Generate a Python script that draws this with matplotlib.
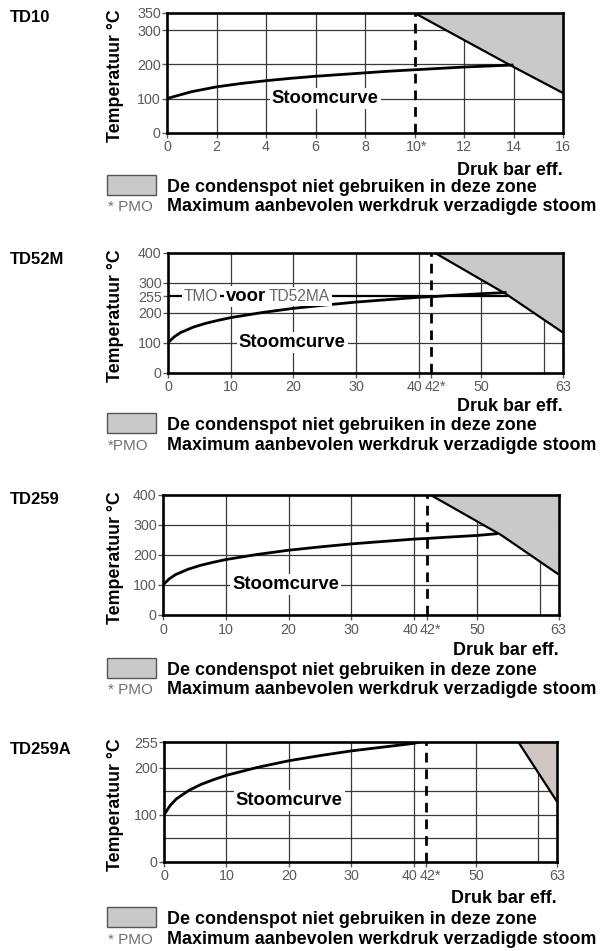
import matplotlib
matplotlib.use("Agg")
import matplotlib.pyplot as plt
from matplotlib.patches import Rectangle, Polygon
from matplotlib.transforms import ScaledTranslation

plt.rcParams['font.family'] = ['Liberation Sans', 'DejaVu Sans']

W, H = 615, 951

# ---------------- data ----------------
titles = ["TD10", "TD52M", "TD259", "TD259A"]

# steam curves (pressure bar g, temperature degC)
td10_p = [0, 1, 2, 3, 4, 5, 6, 7, 8, 9, 10, 11, 12, 13, 14]
td10_t = [100, 120, 134, 144, 152, 159, 165, 170, 175, 180, 184, 188, 192, 195, 198]

td52m_p = [0, 1, 2, 4, 6, 8, 10, 15, 20, 25, 30, 35, 40, 42, 45, 50, 54]
td52m_t = [100, 120, 134, 152, 165, 175, 184, 201, 215, 226, 236, 244, 252, 254, 258, 264, 268]

td259_p = [0, 1, 2, 4, 6, 8, 10, 15, 20, 25, 30, 35, 40, 42, 45, 50, 53.3]
td259_t = [100, 120, 134, 152, 165, 175, 184, 201, 215, 226, 236, 244, 252, 254, 258, 264, 270]

td259a_p = [0, 1, 2, 4, 6, 8, 10, 15, 20, 25, 30, 35, 40, 41]
td259a_t = [100, 120, 134, 152, 165, 175, 184, 201, 215, 226, 236, 244, 252, 255]

# forbidden zones (boundary line points)
zone1_p = [10, 13.8, 16]
zone1_t = [350, 200, 116]
zone2_p = [42.6, 53.9, 63]
zone2_t = [400, 263, 134]
zone3_p = [42.5, 53.9, 63]
zone3_t = [400, 265, 135]
zone4_p = [56.8, 63]
zone4_t = [255, 128]

# axes ranges / ticks
xmax = [16, 63, 63, 63]
ymax = [350, 400, 400, 255]
pmo = [10, 42, 42, 42]
xticks1 = [0, 2, 4, 6, 8, 10, 12, 14, 16]
xlabels1 = ["0", "2", "4", "6", "8", "10*", "12", "14", "16"]
xticks2 = [0, 10, 20, 30, 40, 42, 50, 63]
xlabels2 = ["0", "10", "20", "30", "40", "42*", "50", "63"]
vgrid1 = [2, 4, 6, 8, 12, 14]
vgrid2 = [10, 20, 30, 40, 50, 60]
yticks = [[0, 100, 200, 300, 350], [0, 100, 200, 255, 300, 400],
          [0, 100, 200, 300, 400], [0, 100, 200, 255]]
hgrid = [[100, 200, 300], [100, 200, 300], [100, 200, 300], [50, 100, 150, 200]]
tmo_value = 255
tmo_end = 54

curves = [(td10_p, td10_t), (td52m_p, td52m_t), (td259_p, td259_t), (td259a_p, td259a_t)]
zones = [(zone1_p, zone1_t), (zone2_p, zone2_t), (zone3_p, zone3_t), (zone4_p, zone4_t)]
zone_colors = ["#c9c9c9", "#c9c9c9", "#c9c9c9", "#cfc7c3"]
stoom_pos = [(6.4, 100), (19.8, 100), (19.5, 100), (20.1, 131)]

# ---------------- layout (pixels) ----------------
axes_px = [(167, 563, 13, 132.7), (168, 563, 253, 372.7),
           (163, 558.5, 494.5, 615), (164, 557, 742, 861.7)]
title_y = [17, 259, 500, 749]
druk_base = [175, 411, 655, 903]
line1_base = [192, 430, 675, 924]
line2_base = [211, 450, 694, 944]
pmo_lbl = ["* PMO", "*PMO", "* PMO", "* PMO"]

BOLD = 12.9
TICKFS = 10.3

fig = plt.figure(figsize=(W / 100, H / 100), dpi=100)

def fx(x):
    return x / W

def fy(y):
    return 1 - y / H

GRID = "#3a3a3a"
TICKC = "#5a5a5a"

for i in range(4):
    l, r, t, b = axes_px[i]
    ax = fig.add_axes([fx(l), fy(b), (r - l) / W, (b - t) / H])
    ax.set_xlim(0, xmax[i])
    ax.set_ylim(0, ymax[i])
    for s in ax.spines.values():
        s.set_linewidth(1.9)
        s.set_color("black")
        s.set_zorder(6)
    # grid
    vg = vgrid1 if i == 0 else vgrid2
    for v in vg:
        ax.axvline(v, color=GRID, lw=0.9, zorder=1)
    for h in hgrid[i]:
        ax.axhline(h, color=GRID, lw=0.9, zorder=1)
    # zone
    zp, zt = zones[i]
    poly = list(zip(zp, zt)) + [(xmax[i], ymax[i])]
    ax.add_patch(Polygon(poly, closed=True, facecolor=zone_colors[i],
                         edgecolor="none", zorder=2))
    ax.plot(zp, zt, color="black", lw=1.6, zorder=3, solid_capstyle="butt")
    # pmo dashed
    ax.axvline(pmo[i], color="black", lw=2.0, ls=(0, (3.5, 2.5)), zorder=4)
    # curve
    cp, ct = curves[i]
    ax.plot(cp, ct, color="black", lw=2.0, zorder=4, solid_capstyle="butt")
    # TMO line
    if i == 1:
        ax.plot([0, tmo_end], [tmo_value, tmo_value], color="black", lw=1.6, zorder=4)
        bb = dict(facecolor="white", edgecolor="none", pad=1.5)
        ax.text(5.3, tmo_value, "TMO", color="#666666", fontsize=11.2,
                ha="center", va="center", bbox=bb, zorder=5)
        ax.text(12.4, tmo_value, "voor", color="black", fontsize=13.3, fontweight="bold",
                ha="center", va="center", bbox=bb, zorder=5)
        ax.text(21.0, tmo_value, "TD52MA", color="#666666", fontsize=11.2,
                ha="center", va="center", bbox=bb, zorder=5)
    # Stoomcurve label
    sx, sy = stoom_pos[i]
    ax.text(sx, sy, "Stoomcurve", fontsize=13.3, fontweight="bold", ha="center",
            va="center", zorder=5,
            bbox=dict(facecolor="white", edgecolor="none", pad=1.5))
    # ticks
    if i == 0:
        ax.set_xticks(xticks1, xlabels1)
    else:
        ax.set_xticks(xticks2, xlabels2)
    ax.set_yticks(yticks[i], [str(v) for v in yticks[i]])
    ax.tick_params(axis="x", length=3.5, width=1, color=TICKC, pad=2,
                   labelsize=TICKFS, labelcolor=TICKC)
    ax.tick_params(axis="y", length=3.5, width=1, color=TICKC, pad=1,
                   labelsize=TICKFS, labelcolor=TICKC)
    # separate crowded labels as in the reference
    labs = ax.get_xticklabels()
    if i == 0:
        labs[5].set_transform(labs[5].get_transform() +
                              ScaledTranslation(2 / 100, 0, fig.dpi_scale_trans))
    else:
        labs[4].set_transform(labs[4].get_transform() +
                              ScaledTranslation(-4 / 100, 0, fig.dpi_scale_trans))
        labs[5].set_transform(labs[5].get_transform() +
                              ScaledTranslation(4 / 100, 0, fig.dpi_scale_trans))

    # figure-level texts
    fig.text(fx(10), fy(title_y[i]), titles[i], fontsize=12, fontweight="bold",
             ha="left", va="center")
    fig.text(fx(115), fy((t + b) / 2 + 3), "Temperatuur °C", fontsize=12.8,
             fontweight="bold", rotation=90, ha="center", va="center")
    fig.text(fx(r), fy(druk_base[i]), "Druk bar eff.", fontsize=BOLD,
             fontweight="bold", ha="right", va="baseline")
    fig.patches.append(Rectangle((fx(107), fy(line1_base[i] + 3)), 49 / W, 20 / H,
                                 transform=fig.transFigure, facecolor="#c9c9c9",
                                 edgecolor="#555555", lw=1.0))
    fig.text(fx(167), fy(line1_base[i]), "De condenspot niet gebruiken in deze zone",
             fontsize=BOLD, fontweight="bold", ha="left", va="baseline")
    fig.text(fx(108), fy(line2_base[i]), pmo_lbl[i], fontsize=11, color="#707070",
             ha="left", va="baseline")
    fig.text(fx(167), fy(line2_base[i]), "Maximum aanbevolen werkdruk verzadigde stoom",
             fontsize=BOLD, fontweight="bold", ha="left", va="baseline")

fig.savefig("out.png", dpi=100)
